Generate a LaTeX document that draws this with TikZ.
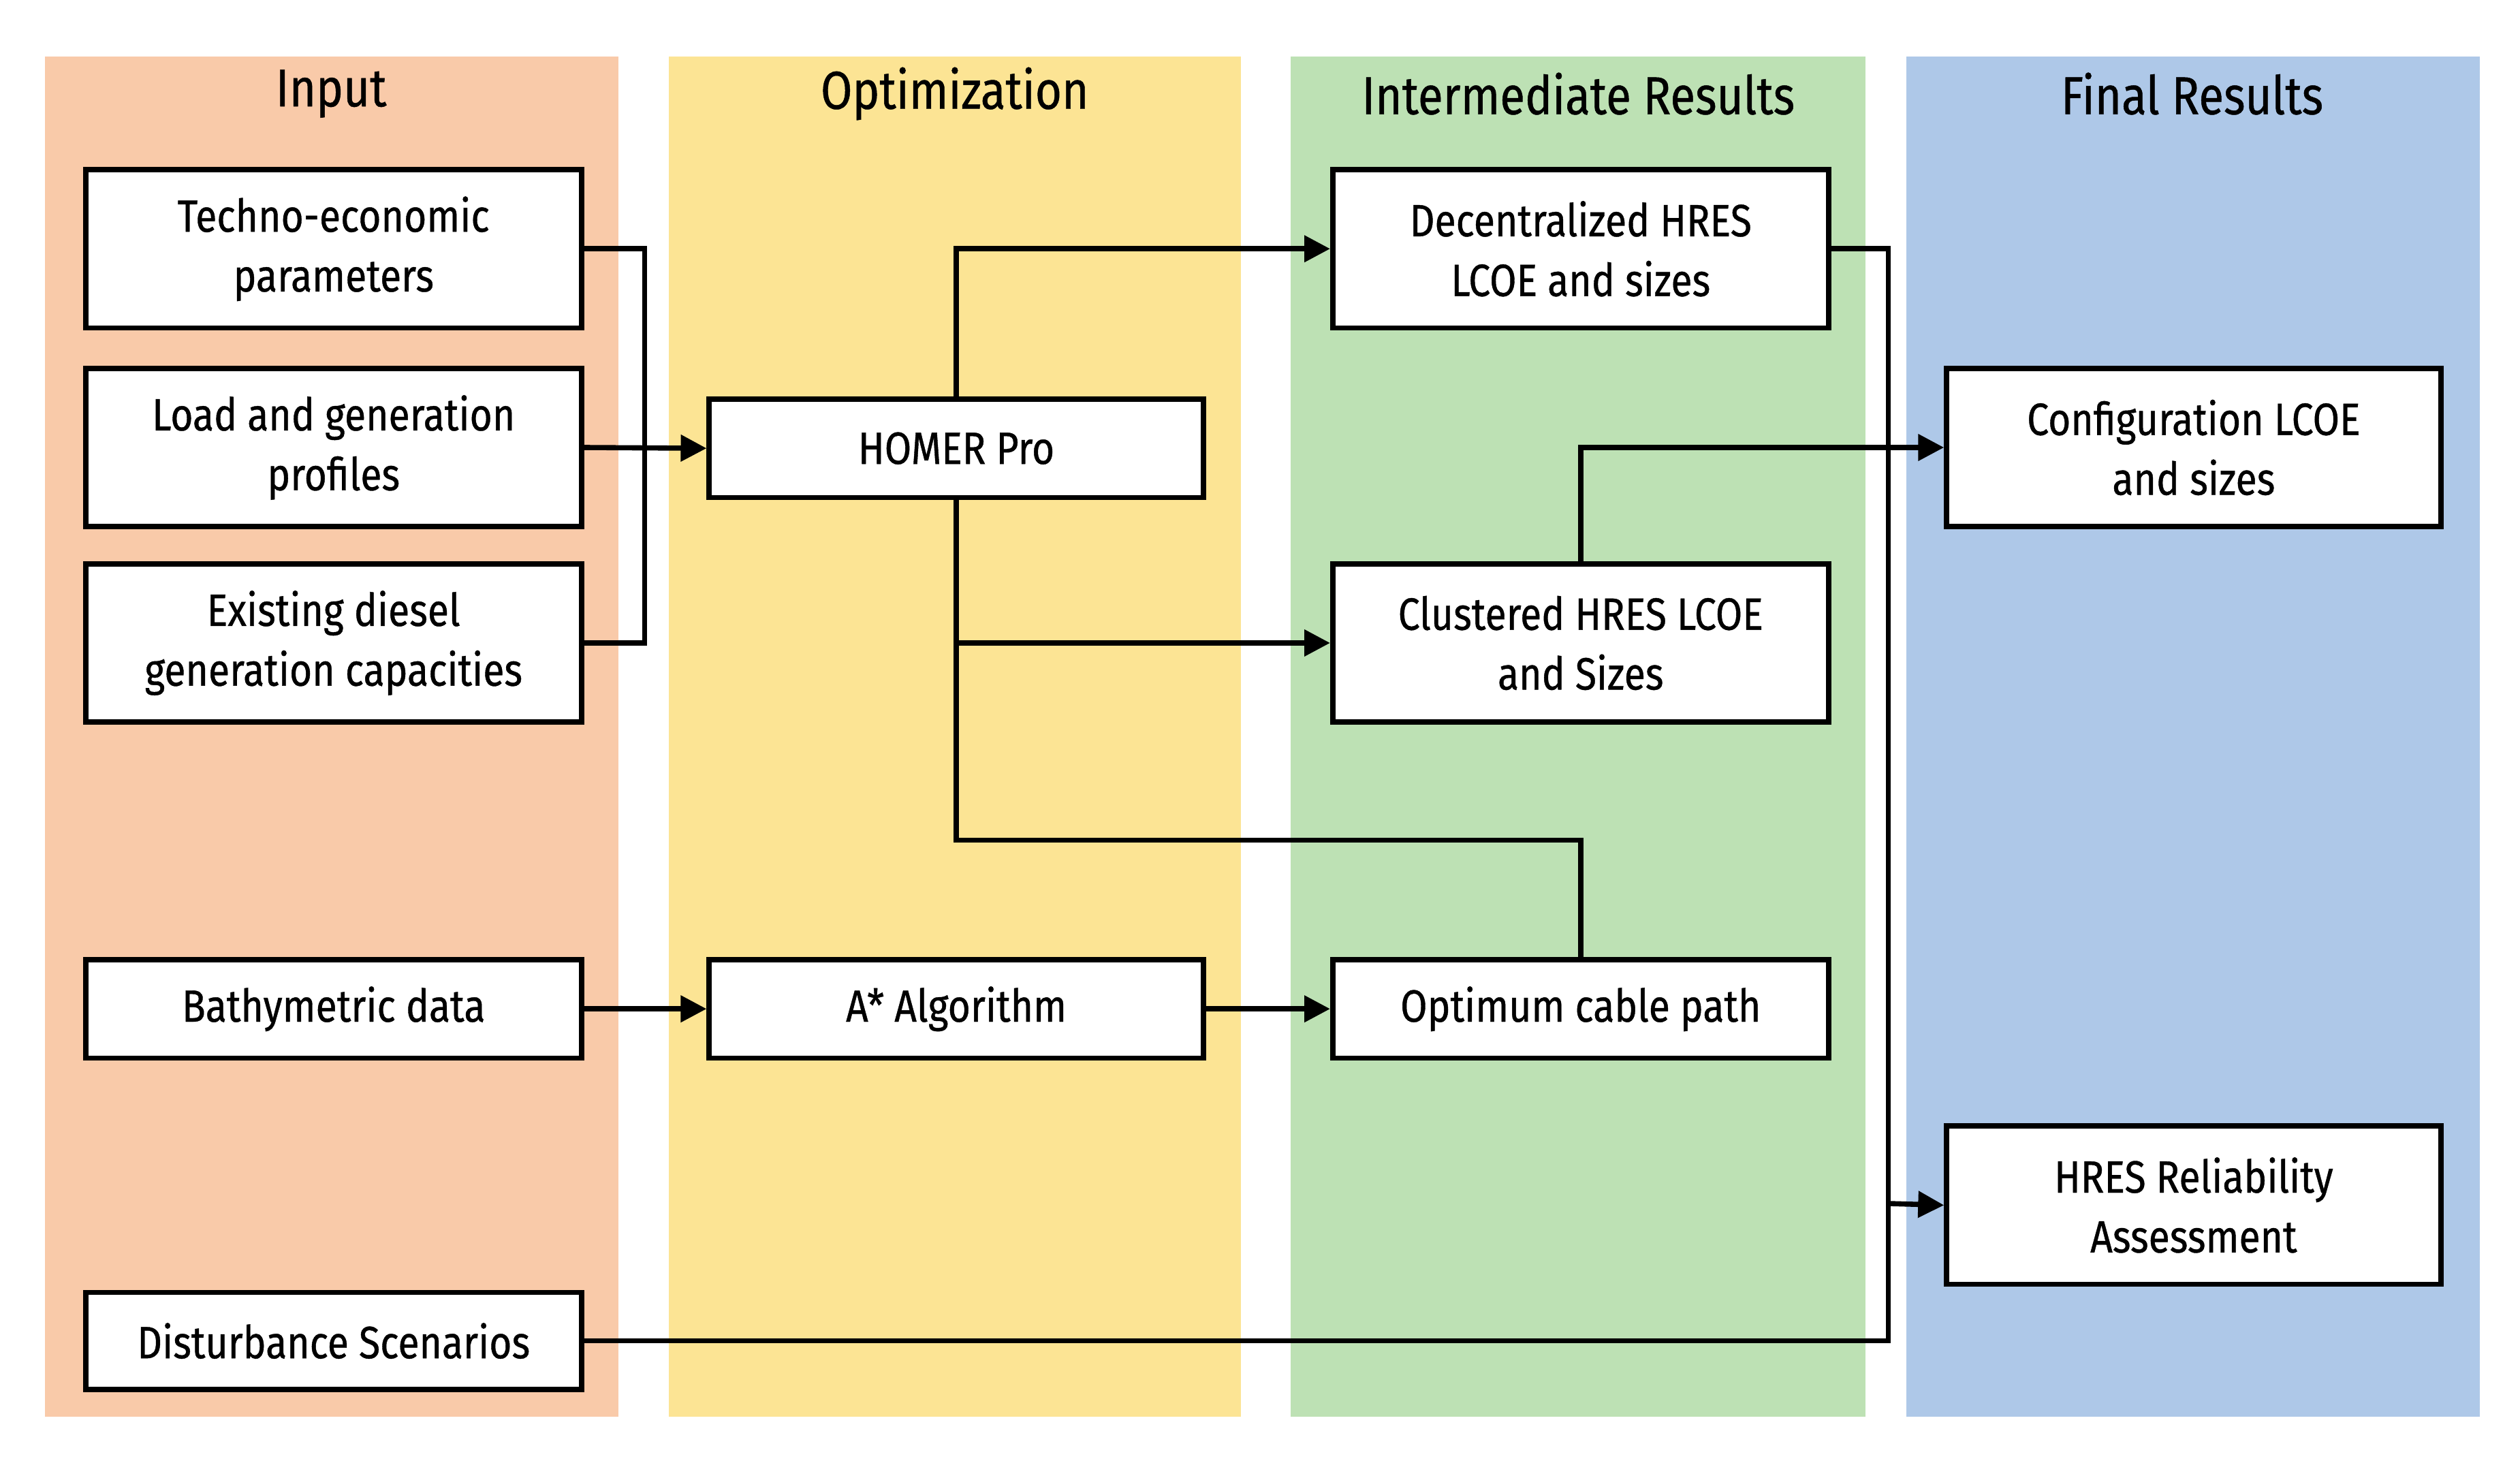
\documentclass[tikz,border=0pt]{standalone}
\usepackage{fontspec}
\setmainfont{Fira Sans}[FakeStretch=0.86,FakeBold=0.6]
\usetikzlibrary{arrows.meta}
\definecolor{cin}{HTML}{F9CAA9}
\definecolor{copt}{HTML}{FCE494}
\definecolor{cint}{HTML}{BDE1B4}
\definecolor{cfin}{HTML}{AEC8E8}
\begin{document}
\begin{tikzpicture}[x=1pt,y=-1pt,
  box/.style={draw,line width=3.2pt,fill=white,align=center,font=\fontsize{28}{37}\selectfont,inner sep=0pt},
  ttl/.style={font=\fontsize{33}{38}\selectfont},
  ln/.style={line width=3.2pt},
  ar/.style={line width=3.2pt,-{Triangle[length=16pt,width=16pt]}}]
\useasboundingbox (0,0) rectangle (1560,904);
\fill[cin] (28,35) rectangle (383,877);
\fill[copt] (414,35) rectangle (768,877);
\fill[cint] (799,35) rectangle (1155,877);
\fill[cfin] (1180,35) rectangle (1535,877);
\node[ttl] (t1) at (205,58) {Input};
\node[ttl] (t2) at (591,58) {Optimization};
\node[ttl] (t3) at (977,58) {Intermediate Results};
\node[ttl] (t4) at (1357,58) {Final Results};
\newcommand\bx[6]{\node[box,minimum width=#4-#2,minimum height=#5-#3] (#1) at ({(#2+#4)/2},{(#3+#5)/2}) {#6};}
\bx{tech}{53}{105}{360}{203}{Techno-economic\\parameters}
\bx{load}{53}{228}{360}{326}{Load and generation\\profiles}
\bx{diesel}{53}{349}{360}{447}{Existing diesel\\generation capacities}
\bx{bath}{53}{594}{360}{655}{Bathymetric data}
\bx{dist}{53}{800}{360}{860}{Disturbance Scenarios}
\bx{homer}{439}{247}{745}{308}{HOMER Pro}
\bx{astar}{439}{594}{745}{655}{A* Algorithm}
\bx{dec}{825}{105}{1132}{203}{Decentralized HRES\\LCOE and sizes}
\bx{clu}{825}{349}{1132}{447}{Clustered HRES LCOE\\and Sizes}
\bx{opt}{825}{594}{1132}{655}{Optimum cable path}
\bx{conf}{1205}{228}{1511}{326}{Configuration LCOE\\and sizes}
\bx{rel}{1205}{697}{1511}{795}{HRES Reliability\\Assessment}
\coordinate (b1) at (399,154);
\coordinate (b2) at (399,398);
\draw[ln] (tech.east) -- (b1) -- (b2) -- (diesel.east);
\draw[ar] (load.east) -- (homer.west);
\draw[ar] (homer.north) |- (dec.west);
\coordinate (h1) at (592,520);
\coordinate (h2) at (592,398);
\draw[ln] (homer.south) -- (h1) -| (opt.north);
\draw[ar] (h2) -- (clu.west);
\draw[ar] (clu.north) |- (conf.west);
\coordinate (r1) at (1169,154);
\coordinate (r2) at (1169,830);
\coordinate (r3) at (1169,745);
\draw[ln] (dec.east) -- (r1) -- (r2) -- (dist.east);
\draw[ar] (r3) -- (rel.west);
\draw[ar] (bath.east) -- (astar.west);
\draw[ar] (astar.east) -- (opt.west);
\end{tikzpicture}
\end{document}
